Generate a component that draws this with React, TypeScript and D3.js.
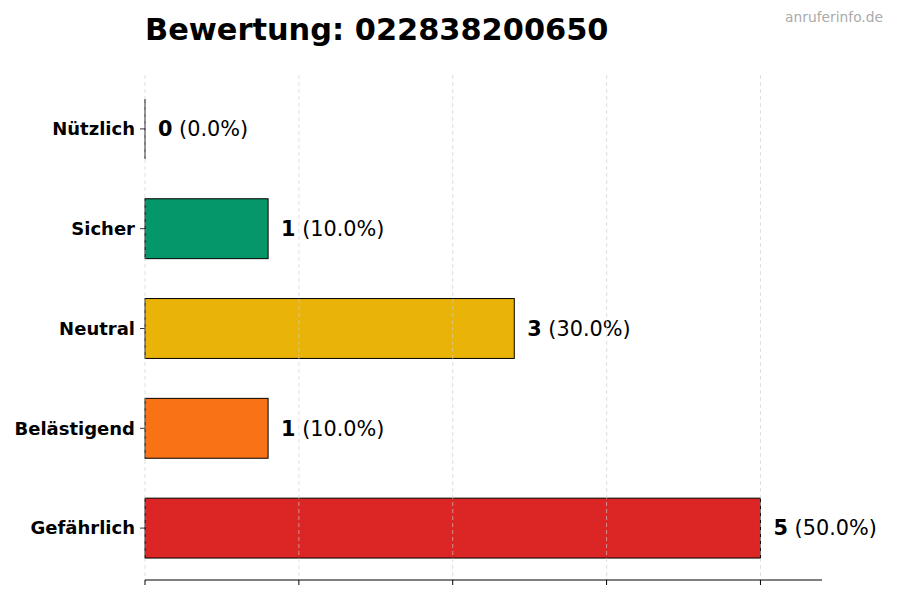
import React from "react";
import * as d3 from "d3";

const categories = ["Nützlich", "Sicher", "Neutral", "Belästigend", "Gefährlich"];
const counts = [0, 1, 3, 1, 5];
const colors = ["#16a34a", "#059669", "#eab308", "#f97316", "#dc2626"];
const xTicks = [0, 1.25, 2.5, 3.75, 5];
const title = "Bewertung: 022838200650";
const watermark = "anruferinfo.de";

export default function App() {
  const W = 900, H = 600;
  const left = 145, right = 822, top = 75, bottom = 580;
  const total = d3.sum(counts);
  const x = d3.scaleLinear().domain([0, 5.5]).range([left, right]);
  const y = d3.scaleBand<string>().domain(categories).range([top + 1, bottom + 1]).paddingInner(0.4).paddingOuter(0.23);
  const font = "'DejaVu Sans', sans-serif";
  return (
    <svg width={W} height={H} style={{ position: "absolute", left: 0, top: 0, background: "#fff" }} fontFamily={font}>
      <text x={left} y={40} fontSize={30.4} fontWeight="bold" fill="#000">{title}</text>
      <text x={883} y={22} fontSize={13.8} fill="#aaaaaa" textAnchor="end">{watermark}</text>
      {categories.map((c, i) => {
        const y0 = y(c)!;
        const bh = y.bandwidth();
        const v = counts[i];
        const pct = total ? (v / total) * 100 : 0;
        return (
          <g key={c}>
            <rect x={x(0)} y={y0} width={x(v) - x(0)} height={bh} fill={colors[i]} stroke="#000" strokeWidth={1} />
            {v === 0 && (
              <line x1={x(0)} x2={x(0)} y1={y0} y2={y0 + bh} stroke="#000" strokeWidth={1} />
            )}
            <line x1={left - 5} x2={left} y1={y0 + bh / 2} y2={y0 + bh / 2} stroke="#000" strokeWidth={0.8} />
            <text x={left - 10} y={y0 + bh / 2} dy="0.35em" textAnchor="end" fontSize={18} fontWeight="bold" fill="#000">{c}</text>
            <text x={x(v) + 13} y={y0 + bh / 2} dy="0.35em" fontSize={20.8} fill="#000">
              <tspan fontWeight="bold">{v}</tspan>
              <tspan>{` (${pct.toFixed(1)}%)`}</tspan>
            </text>
          </g>
        );
      })}
      {xTicks.map((t) => (
        <line key={"g" + t} x1={x(t)} x2={x(t)} y1={top} y2={bottom} stroke="#cccccc" strokeOpacity={0.8} strokeWidth={0.8} strokeDasharray="4,3" />
      ))}
      <line x1={left} x2={right} y1={bottom} y2={bottom} stroke="#000" strokeWidth={1} />
      {xTicks.map((t) => (
        <line key={"t" + t} x1={x(t)} x2={x(t)} y1={bottom} y2={bottom + 5} stroke="#000" strokeWidth={1} />
      ))}
    </svg>
  );
}
